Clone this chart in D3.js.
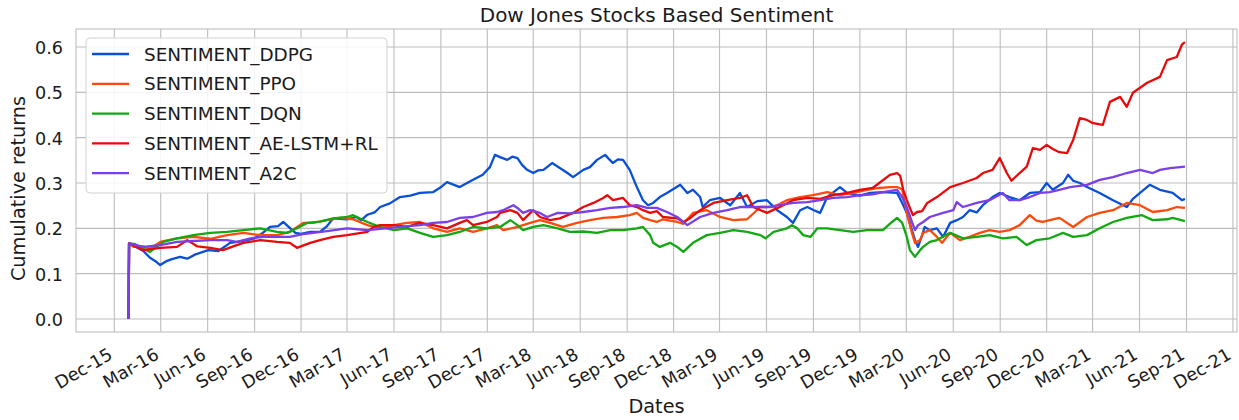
<!DOCTYPE html>
<html>
<head>
<meta charset="utf-8">
<script src="https://cdn.jsdelivr.net/npm/d3@7"></script>
<style>
  body { margin: 0; background: #ffffff; }
  svg { display: block; font-family: "DejaVu Sans", sans-serif; }
</style>
</head>
<body>
<svg id="chart" width="1239" height="420"></svg>
<script>
// ---- data -------------------------------------------------------------
const seriesNames = ["SENTIMENT_DDPG", "SENTIMENT_PPO", "SENTIMENT_DQN", "SENTIMENT_AE-LSTM+RL", "SENTIMENT_A2C"];
const seriesColors = ["#0a4fd8", "#ff4a0a", "#12a812", "#e80a0a", "#7a3fe6"];
const xTickLabels = ["Dec-15", "Mar-16", "Jun-16", "Sep-16", "Dec-16", "Mar-17", "Jun-17", "Sep-17",
  "Dec-17", "Mar-18", "Jun-18", "Sep-18", "Dec-18", "Mar-19", "Jun-19", "Sep-19", "Dec-19",
  "Mar-20", "Jun-20", "Sep-20", "Dec-20", "Mar-21", "Jun-21", "Sep-21", "Dec-21"];
const yTickValues = [0.0, 0.1, 0.2, 0.3, 0.4, 0.5, 0.6];

const ddpg = [
  ["2015-12-29", 0], ["2015-12-30", 0.167], ["2016-01-11", 0.160], ["2016-01-27", 0.150], ["2016-02-09", 0.135],
  ["2016-02-19", 0.128], ["2016-02-29", 0.119], ["2016-03-11", 0.127], ["2016-03-23", 0.132], ["2016-04-08", 0.137],
  ["2016-04-22", 0.133], ["2016-05-07", 0.142], ["2016-06-02", 0.152], ["2016-06-22", 0.150], ["2016-07-15", 0.168],
  ["2016-08-08", 0.172], ["2016-09-01", 0.178], ["2016-09-17", 0.190], ["2016-10-01", 0.203], ["2016-10-17", 0.205],
  ["2016-10-27", 0.214], ["2016-11-10", 0.200], ["2016-11-20", 0.190], ["2016-12-01", 0.188], ["2016-12-19", 0.192],
  ["2017-01-07", 0.192], ["2017-01-21", 0.205], ["2017-02-02", 0.222], ["2017-03-01", 0.220], ["2017-03-19", 0.225],
  ["2017-03-29", 0.218], ["2017-04-10", 0.230], ["2017-04-24", 0.235], ["2017-05-05", 0.247], ["2017-05-24", 0.255],
  ["2017-06-13", 0.269], ["2017-07-03", 0.272], ["2017-07-22", 0.278], ["2017-08-17", 0.280], ["2017-08-31", 0.290],
  ["2017-09-13", 0.302], ["2017-10-08", 0.291], ["2017-11-03", 0.307], ["2017-11-22", 0.318], ["2017-12-06", 0.335],
  ["2017-12-16", 0.362], ["2017-12-26", 0.357], ["2018-01-09", 0.351], ["2018-01-19", 0.358], ["2018-01-29", 0.355],
  ["2018-02-07", 0.340], ["2018-02-17", 0.329], ["2018-03-01", 0.322], ["2018-03-11", 0.328], ["2018-03-21", 0.329],
  ["2018-04-07", 0.344], ["2018-04-22", 0.333], ["2018-05-07", 0.322], ["2018-05-18", 0.313], ["2018-06-07", 0.329],
  ["2018-06-20", 0.335], ["2018-07-04", 0.351], ["2018-07-20", 0.362], ["2018-07-28", 0.352], ["2018-08-04", 0.344],
  ["2018-08-14", 0.352], ["2018-08-24", 0.351], ["2018-09-06", 0.329], ["2018-09-20", 0.291], ["2018-10-02", 0.262],
  ["2018-10-12", 0.251], ["2018-10-22", 0.256], ["2018-11-04", 0.269], ["2018-11-18", 0.278], ["2018-12-14", 0.296],
  ["2018-12-28", 0.278], ["2019-01-08", 0.285], ["2019-01-22", 0.269], ["2019-01-27", 0.247], ["2019-02-10", 0.262],
  ["2019-03-02", 0.267], ["2019-03-22", 0.251], ["2019-04-10", 0.278], ["2019-04-24", 0.247], ["2019-05-14", 0.260],
  ["2019-06-02", 0.262], ["2019-06-22", 0.240], ["2019-07-11", 0.225], ["2019-07-23", 0.212], ["2019-08-06", 0.240],
  ["2019-08-20", 0.247], ["2019-09-02", 0.240], ["2019-09-14", 0.234], ["2019-09-28", 0.269], ["2019-10-23", 0.291],
  ["2019-11-06", 0.278], ["2019-12-01", 0.272], ["2019-12-21", 0.278], ["2020-01-15", 0.280], ["2020-02-12", 0.278],
  ["2020-02-22", 0.256], ["2020-03-02", 0.234], ["2020-03-12", 0.196], ["2020-03-18", 0.174], ["2020-03-24", 0.159],
  ["2020-04-01", 0.185], ["2020-04-06", 0.203], ["2020-04-16", 0.196], ["2020-04-30", 0.200], ["2020-05-12", 0.181],
  ["2020-05-26", 0.212], ["2020-06-08", 0.218], ["2020-06-20", 0.225], ["2020-07-03", 0.240], ["2020-07-17", 0.235],
  ["2020-07-29", 0.251], ["2020-08-17", 0.269], ["2020-08-31", 0.278], ["2020-09-19", 0.269], ["2020-10-09", 0.262],
  ["2020-10-29", 0.278], ["2020-11-18", 0.280], ["2020-12-01", 0.300], ["2020-12-13", 0.285], ["2021-01-02", 0.300],
  ["2021-01-12", 0.318], ["2021-01-22", 0.305], ["2021-02-04", 0.300], ["2021-02-18", 0.291], ["2021-03-15", 0.278],
  ["2021-04-10", 0.262], ["2021-05-07", 0.247], ["2021-05-19", 0.265], ["2021-06-02", 0.278], ["2021-06-21", 0.296],
  ["2021-07-11", 0.285], ["2021-08-05", 0.278], ["2021-08-23", 0.262], ["2021-08-29", 0.265]
];

const ppo = [
  ["2015-12-29", 0], ["2015-12-30", 0.167], ["2016-01-08", 0.159], ["2016-01-27", 0.160], ["2016-02-09", 0.155],
  ["2016-02-29", 0.170], ["2016-04-02", 0.178], ["2016-05-04", 0.181], ["2016-06-06", 0.177], ["2016-07-09", 0.185],
  ["2016-08-10", 0.190], ["2016-09-12", 0.185], ["2016-10-15", 0.185], ["2016-11-09", 0.192], ["2016-12-05", 0.212],
  ["2016-12-24", 0.212], ["2017-01-21", 0.218], ["2017-02-16", 0.223], ["2017-03-13", 0.220], ["2017-04-10", 0.207],
  ["2017-05-05", 0.200], ["2017-06-01", 0.207], ["2017-06-27", 0.212], ["2017-07-22", 0.214], ["2017-08-17", 0.200],
  ["2017-09-13", 0.192], ["2017-10-08", 0.200], ["2017-11-03", 0.192], ["2017-11-30", 0.200], ["2017-12-20", 0.207],
  ["2018-01-01", 0.196], ["2018-01-29", 0.203], ["2018-02-23", 0.212], ["2018-03-14", 0.218], ["2018-04-03", 0.212],
  ["2018-04-28", 0.203], ["2018-05-26", 0.212], ["2018-06-20", 0.218], ["2018-07-16", 0.223], ["2018-08-12", 0.225],
  ["2018-09-06", 0.229], ["2018-09-20", 0.234], ["2018-10-02", 0.223], ["2018-10-16", 0.218], ["2018-10-29", 0.214],
  ["2018-11-10", 0.220], ["2018-12-08", 0.214], ["2018-12-20", 0.210], ["2019-01-08", 0.234], ["2019-02-04", 0.240],
  ["2019-03-02", 0.225], ["2019-03-28", 0.218], ["2019-04-24", 0.220], ["2019-05-20", 0.247], ["2019-06-15", 0.247],
  ["2019-07-11", 0.262], ["2019-08-06", 0.269], ["2019-08-31", 0.273], ["2019-09-28", 0.280], ["2019-10-23", 0.273],
  ["2019-11-18", 0.278], ["2019-12-15", 0.285], ["2020-01-08", 0.289], ["2020-01-29", 0.291], ["2020-02-12", 0.291],
  ["2020-02-22", 0.286], ["2020-02-27", 0.256], ["2020-03-04", 0.225], ["2020-03-12", 0.190], ["2020-03-18", 0.168],
  ["2020-03-28", 0.174], ["2020-04-03", 0.190], ["2020-04-16", 0.196], ["2020-04-30", 0.181], ["2020-05-10", 0.168],
  ["2020-05-26", 0.190], ["2020-06-14", 0.174], ["2020-07-03", 0.181], ["2020-07-23", 0.190], ["2020-08-11", 0.196],
  ["2020-08-31", 0.192], ["2020-09-19", 0.196], ["2020-10-09", 0.207], ["2020-10-29", 0.229], ["2020-11-11", 0.217],
  ["2020-11-23", 0.214], ["2020-12-07", 0.218], ["2020-12-26", 0.223], ["2021-01-22", 0.203], ["2021-02-18", 0.225],
  ["2021-03-15", 0.234], ["2021-04-10", 0.240], ["2021-05-07", 0.256], ["2021-06-02", 0.251], ["2021-06-27", 0.236],
  ["2021-07-25", 0.240], ["2021-08-13", 0.247], ["2021-08-29", 0.245]
];

const dqn = [
  ["2015-12-29", 0], ["2015-12-30", 0.167], ["2016-01-11", 0.165], ["2016-01-27", 0.155], ["2016-02-09", 0.148],
  ["2016-03-06", 0.170], ["2016-04-02", 0.178], ["2016-05-04", 0.185], ["2016-06-06", 0.190], ["2016-07-09", 0.192],
  ["2016-08-10", 0.196], ["2016-09-12", 0.200], ["2016-10-15", 0.192], ["2016-11-04", 0.190], ["2016-11-23", 0.200],
  ["2016-12-13", 0.212], ["2017-01-07", 0.215], ["2017-02-02", 0.222], ["2017-03-01", 0.225], ["2017-03-13", 0.229],
  ["2017-04-10", 0.214], ["2017-05-05", 0.203], ["2017-06-01", 0.196], ["2017-06-27", 0.200], ["2017-07-22", 0.190],
  ["2017-08-17", 0.181], ["2017-09-13", 0.185], ["2017-10-08", 0.192], ["2017-11-03", 0.203], ["2017-11-30", 0.200],
  ["2017-12-26", 0.203], ["2018-01-15", 0.218], ["2018-01-29", 0.207], ["2018-02-09", 0.196], ["2018-03-01", 0.203],
  ["2018-03-21", 0.207], ["2018-04-18", 0.200], ["2018-05-12", 0.192], ["2018-06-07", 0.193], ["2018-07-04", 0.190],
  ["2018-07-30", 0.196], ["2018-08-24", 0.196], ["2018-09-20", 0.200], ["2018-10-02", 0.203], ["2018-10-16", 0.185],
  ["2018-10-22", 0.168], ["2018-11-04", 0.159], ["2018-11-24", 0.168], ["2018-12-08", 0.159], ["2018-12-20", 0.148],
  ["2019-01-08", 0.168], ["2019-02-04", 0.185], ["2019-03-02", 0.190], ["2019-03-28", 0.196], ["2019-04-24", 0.192],
  ["2019-05-20", 0.185], ["2019-05-30", 0.178], ["2019-06-15", 0.192], ["2019-07-11", 0.200], ["2019-07-21", 0.207],
  ["2019-07-31", 0.200], ["2019-08-12", 0.185], ["2019-08-26", 0.181], ["2019-09-09", 0.200], ["2019-09-28", 0.200],
  ["2019-10-23", 0.196], ["2019-11-18", 0.192], ["2019-12-15", 0.196], ["2020-01-15", 0.196], ["2020-02-02", 0.214],
  ["2020-02-12", 0.223], ["2020-02-22", 0.212], ["2020-03-02", 0.181], ["2020-03-08", 0.152], ["2020-03-18", 0.137],
  ["2020-03-28", 0.152], ["2020-04-03", 0.159], ["2020-04-16", 0.170], ["2020-04-30", 0.174], ["2020-05-26", 0.190],
  ["2020-06-20", 0.178], ["2020-07-17", 0.181], ["2020-08-11", 0.185], ["2020-09-06", 0.178], ["2020-10-03", 0.181],
  ["2020-10-23", 0.163], ["2020-11-11", 0.174], ["2020-12-07", 0.178], ["2021-01-02", 0.190], ["2021-01-22", 0.181],
  ["2021-02-18", 0.185], ["2021-03-15", 0.200], ["2021-04-10", 0.214], ["2021-05-07", 0.223], ["2021-06-06", 0.229],
  ["2021-06-27", 0.218], ["2021-07-25", 0.220], ["2021-08-05", 0.223], ["2021-08-29", 0.216]
];

const aeLstm = [
  ["2015-12-29", 0], ["2015-12-30", 0.167], ["2016-01-11", 0.160], ["2016-01-27", 0.152], ["2016-02-29", 0.157],
  ["2016-04-02", 0.159], ["2016-04-22", 0.174], ["2016-05-12", 0.160], ["2016-06-06", 0.157], ["2016-07-01", 0.152],
  ["2016-07-21", 0.160], ["2016-08-10", 0.168], ["2016-09-12", 0.174], ["2016-10-15", 0.170], ["2016-11-09", 0.168],
  ["2016-11-23", 0.157], ["2016-12-19", 0.168], ["2017-01-07", 0.174], ["2017-02-02", 0.181], ["2017-03-01", 0.185],
  ["2017-04-10", 0.192], ["2017-04-22", 0.203], ["2017-05-05", 0.207], ["2017-06-01", 0.207], ["2017-06-27", 0.203],
  ["2017-07-22", 0.212], ["2017-08-17", 0.207], ["2017-09-13", 0.200], ["2017-10-08", 0.212], ["2017-10-22", 0.218],
  ["2017-11-03", 0.207], ["2017-11-30", 0.214], ["2017-12-20", 0.225], ["2017-12-26", 0.234], ["2018-01-15", 0.240],
  ["2018-01-29", 0.234], ["2018-02-09", 0.218], ["2018-03-01", 0.240], ["2018-03-14", 0.225], ["2018-04-03", 0.218],
  ["2018-04-22", 0.222], ["2018-05-18", 0.234], ["2018-06-07", 0.247], ["2018-06-27", 0.256], ["2018-07-16", 0.267],
  ["2018-07-24", 0.273], ["2018-08-04", 0.262], ["2018-08-24", 0.267], ["2018-09-06", 0.251], ["2018-09-20", 0.247],
  ["2018-10-02", 0.240], ["2018-10-16", 0.234], ["2018-10-29", 0.238], ["2018-11-10", 0.225], ["2018-12-08", 0.222],
  ["2018-12-20", 0.214], ["2019-01-03", 0.223], ["2019-01-22", 0.240], ["2019-02-17", 0.256], ["2019-03-16", 0.262],
  ["2019-04-10", 0.267], ["2019-04-24", 0.273], ["2019-05-06", 0.247], ["2019-06-02", 0.234], ["2019-06-27", 0.247],
  ["2019-07-23", 0.262], ["2019-08-20", 0.267], ["2019-09-14", 0.265], ["2019-10-10", 0.273], ["2019-11-06", 0.278],
  ["2019-12-01", 0.285], ["2019-12-26", 0.289], ["2020-01-08", 0.300], ["2020-01-29", 0.318], ["2020-02-12", 0.322],
  ["2020-02-18", 0.316], ["2020-02-24", 0.285], ["2020-03-02", 0.262], ["2020-03-08", 0.245], ["2020-03-14", 0.229],
  ["2020-03-22", 0.236], ["2020-04-01", 0.238], ["2020-04-11", 0.256], ["2020-04-30", 0.269], ["2020-05-26", 0.291],
  ["2020-06-20", 0.300], ["2020-07-17", 0.311], ["2020-07-29", 0.322], ["2020-08-17", 0.329], ["2020-08-31", 0.355],
  ["2020-09-14", 0.322], ["2020-09-23", 0.305], ["2020-10-09", 0.322], ["2020-10-23", 0.336], ["2020-11-04", 0.377],
  ["2020-11-18", 0.373], ["2020-12-01", 0.384], ["2020-12-13", 0.375], ["2020-12-26", 0.368], ["2021-01-10", 0.366],
  ["2021-01-22", 0.395], ["2021-02-04", 0.443], ["2021-02-18", 0.439], ["2021-03-02", 0.432], ["2021-03-21", 0.428],
  ["2021-04-04", 0.479], ["2021-04-24", 0.490], ["2021-05-07", 0.468], ["2021-05-19", 0.499], ["2021-06-16", 0.521],
  ["2021-07-11", 0.534], ["2021-07-25", 0.571], ["2021-08-13", 0.578], ["2021-08-23", 0.605], ["2021-08-29", 0.611]
];

const a2c = [
  ["2015-12-29", 0], ["2015-12-30", 0.167], ["2016-01-27", 0.159], ["2016-02-29", 0.163], ["2016-04-02", 0.170],
  ["2016-05-04", 0.172], ["2016-06-06", 0.174], ["2016-07-09", 0.174], ["2016-07-28", 0.170], ["2016-08-24", 0.178],
  ["2016-09-19", 0.181], ["2016-10-15", 0.181], ["2016-11-09", 0.181], ["2016-12-05", 0.187], ["2017-01-21", 0.194],
  ["2017-03-01", 0.200], ["2017-04-10", 0.196], ["2017-05-05", 0.199], ["2017-06-13", 0.203], ["2017-07-22", 0.207],
  ["2017-08-17", 0.212], ["2017-09-13", 0.214], ["2017-10-08", 0.223], ["2017-11-03", 0.225], ["2017-11-30", 0.234],
  ["2017-12-20", 0.236], ["2018-01-01", 0.240], ["2018-01-21", 0.251], ["2018-01-29", 0.245], ["2018-02-09", 0.234],
  ["2018-02-23", 0.240], ["2018-03-14", 0.234], ["2018-03-28", 0.225], ["2018-04-18", 0.234], ["2018-05-12", 0.233],
  ["2018-06-07", 0.236], ["2018-07-04", 0.240], ["2018-07-30", 0.245], ["2018-08-24", 0.247], ["2018-09-20", 0.251],
  ["2018-10-10", 0.245], ["2018-10-29", 0.245], ["2018-11-18", 0.236], ["2018-12-08", 0.225], ["2018-12-28", 0.207],
  ["2019-01-22", 0.225], ["2019-02-17", 0.234], ["2019-03-16", 0.240], ["2019-04-10", 0.247], ["2019-06-02", 0.247],
  ["2019-06-27", 0.251], ["2019-07-23", 0.256], ["2019-08-20", 0.258], ["2019-09-14", 0.262], ["2019-10-10", 0.267],
  ["2019-11-06", 0.269], ["2019-12-01", 0.273], ["2019-12-26", 0.275], ["2020-01-15", 0.280], ["2020-02-12", 0.285],
  ["2020-02-22", 0.269], ["2020-03-02", 0.247], ["2020-03-12", 0.214], ["2020-03-18", 0.196], ["2020-03-24", 0.207],
  ["2020-04-03", 0.214], ["2020-04-16", 0.225], ["2020-05-12", 0.234], ["2020-06-01", 0.240], ["2020-06-08", 0.258],
  ["2020-06-20", 0.247], ["2020-07-17", 0.256], ["2020-08-11", 0.262], ["2020-09-06", 0.278], ["2020-09-19", 0.262],
  ["2020-10-09", 0.262], ["2020-10-29", 0.269], ["2020-11-18", 0.278], ["2020-12-07", 0.280], ["2020-12-26", 0.285],
  ["2021-01-16", 0.291], ["2021-02-18", 0.296], ["2021-03-15", 0.307], ["2021-04-10", 0.313], ["2021-05-07", 0.322],
  ["2021-06-02", 0.329], ["2021-06-27", 0.322], ["2021-07-11", 0.329], ["2021-07-31", 0.333], ["2021-08-29", 0.336]
];

const seriesData = [ddpg, ppo, dqn, aeLstm, a2c];

// ---- layout -----------------------------------------------------------
const svg = d3.select("#chart");
const plot = { left: 76, right: 1237, top: 29, bottom: 332 };
const textColor = "#1a1a1a";

const parseDay = d3.timeParse("%Y-%m-%d");
const parseTick = d3.timeParse("%b-%y");

const x = d3.scaleTime()
  .domain([parseDay("2015-09-17"), parseDay("2021-12-09")])
  .range([plot.left, plot.right]);
const y = d3.scaleLinear()
  .domain([-0.0287, 0.6397])
  .range([plot.bottom, plot.top]);

const xTickDates = xTickLabels.map(parseTick);

// grid
const grid = svg.append("g").attr("stroke", "#bdbdbd").attr("stroke-width", 1.1);
grid.selectAll("line.vx").data(xTickDates).join("line")
  .attr("x1", d => x(d)).attr("x2", d => x(d))
  .attr("y1", plot.top).attr("y2", plot.bottom);
grid.selectAll("line.hy").data(yTickValues).join("line")
  .attr("x1", plot.left).attr("x2", plot.right)
  .attr("y1", d => y(d)).attr("y2", d => y(d));

// frame
svg.append("rect")
  .attr("x", plot.left).attr("y", plot.top)
  .attr("width", plot.right - plot.left).attr("height", plot.bottom - plot.top)
  .attr("fill", "none").attr("stroke", "#c4c4c4").attr("stroke-width", 1.2);

// lines
svg.append("clipPath").attr("id", "plotClip").append("rect")
  .attr("x", plot.left).attr("y", plot.top)
  .attr("width", plot.right - plot.left).attr("height", plot.bottom - plot.top);

const line = d3.line()
  .x(d => x(parseDay(d[0])))
  .y(d => y(d[1]));

svg.append("g").attr("clip-path", "url(#plotClip)")
  .selectAll("path").data(seriesData).join("path")
  .attr("d", line)
  .attr("fill", "none")
  .attr("stroke", (d, i) => seriesColors[i])
  .attr("stroke-width", 2.3)
  .attr("stroke-linejoin", "round");

// x axis labels
const xAxis = d3.axisBottom(x)
  .tickValues(xTickDates)
  .tickFormat((d, i) => xTickLabels[i])
  .tickSize(0);
const gx = svg.append("g").attr("transform", `translate(0,${plot.bottom})`).call(xAxis);
gx.select(".domain").remove();
gx.selectAll("text")
  .attr("x", 0).attr("y", 0).attr("dy", 0)
  .attr("transform", "translate(-1,26) rotate(-30)")
  .style("text-anchor", "end")
  .attr("fill", textColor)
  .style("font-size", "17.6px")
  .style("font-family", "DejaVu Sans, sans-serif");

// y axis labels
const yAxis = d3.axisLeft(y)
  .tickValues(yTickValues)
  .tickFormat(d3.format(".1f"))
  .tickSize(0)
  .tickPadding(13);
const gy = svg.append("g").attr("transform", `translate(${plot.left},0)`).call(yAxis);
gy.select(".domain").remove();
gy.selectAll("text")
  .attr("fill", textColor)
  .attr("dy", "0.36em")
  .style("font-size", "17.6px")
  .style("font-family", "DejaVu Sans, sans-serif");

// titles
svg.append("text")
  .attr("x", (plot.left + plot.right) / 2).attr("y", 22)
  .attr("text-anchor", "middle").attr("fill", textColor)
  .style("font-size", "20px")
  .text("Dow Jones Stocks Based Sentiment");

svg.append("text")
  .attr("x", (plot.left + plot.right) / 2).attr("y", 413)
  .attr("text-anchor", "middle").attr("fill", textColor)
  .style("font-size", "19.3px")
  .text("Dates");

svg.append("text")
  .attr("transform", `translate(25,${(plot.top + plot.bottom) / 2 + 8}) rotate(-90)`)
  .attr("text-anchor", "middle").attr("fill", textColor)
  .style("font-size", "19.3px")
  .text("Cumulative returns");

// legend
const legend = svg.append("g").attr("transform", "translate(86,38)");
legend.append("rect")
  .attr("width", 301).attr("height", 155)
  .attr("rx", 4).attr("ry", 4)
  .attr("fill", "#ffffff").attr("fill-opacity", 0.85)
  .attr("stroke", "#d2d2d2").attr("stroke-width", 1);
const rows = legend.selectAll("g.row").data(seriesNames).join("g")
  .attr("transform", (d, i) => `translate(0,${16 + i * 29.8})`);
rows.append("line")
  .attr("x1", 6).attr("x2", 43).attr("y1", 0).attr("y2", 0)
  .attr("stroke", (d, i) => seriesColors[i]).attr("stroke-width", 2.3);
rows.append("text")
  .attr("x", 58).attr("y", 0).attr("dy", "0.36em")
  .attr("fill", textColor)
  .style("font-size", "18.4px")
  .text(d => d);
</script>
</body>
</html>
